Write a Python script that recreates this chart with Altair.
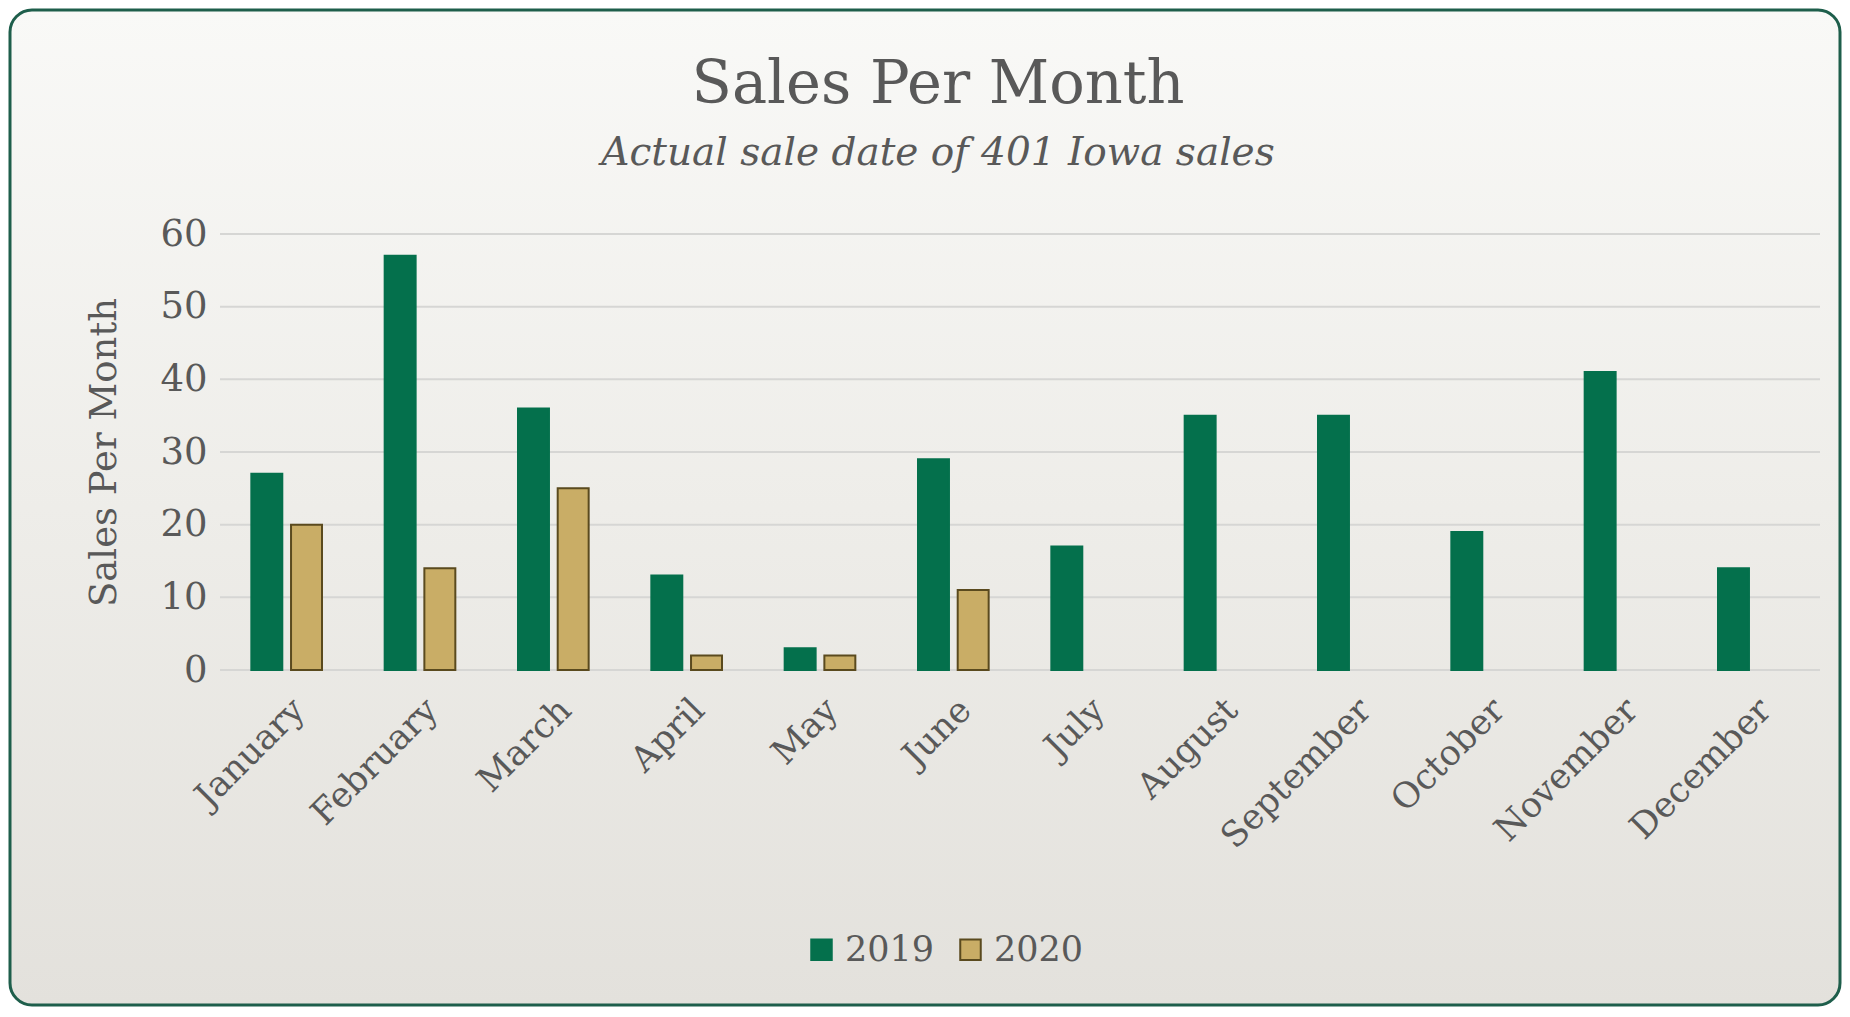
import altair as alt
import pandas as pd

months = ["January", "February", "March", "April", "May", "June", "July",
          "August", "September", "October", "November", "December"]
sales_2019 = [27, 57, 36, 13, 3, 29, 17, 35, 35, 19, 41, 14]
months_2020 = ["January", "February", "March", "April", "May", "June"]
sales_2020 = [20, 14, 25, 2, 2, 11]
grid_values = [0, 10, 20, 30, 40, 50, 60]
years = ["2019", "2020"]

rows = [{"Month": m, "Year": "2019", "Sales": v} for m, v in zip(months, sales_2019)]
rows += [{"Month": m, "Year": "2020", "Sales": v} for m, v in zip(months_2020, sales_2020)]
df = pd.DataFrame(rows)
grid_df = pd.DataFrame({"Sales": grid_values})

FONT = "DejaVu Serif"
TXT = "#595959"
W, H = 1600, 436
PL, PT, PR, PB = 212, 226, 22, 339

yscale = alt.Scale(domain=[0, 60], nice=False)
yaxis = alt.Axis(title="Sales Per Month", values=grid_values, grid=False,
                 ticks=False, domain=False, labelFont=FONT, labelFontSize=37,
                 labelColor=TXT, labelPadding=13, titleFont=FONT,
                 titleFontSize=37, titleFontWeight="normal", titleColor=TXT,
                 titlePadding=36, zindex=2)

background = alt.Chart(pd.DataFrame({"bg": [0]})).mark_rect(
    cornerRadius=22,
    stroke="#1e5e4b",
    strokeWidth=3,
    fill=alt.Gradient(
        gradient="linear",
        stops=[alt.GradientStop(color="#f9f9f7", offset=0),
               alt.GradientStop(color="#eeede9", offset=0.5),
               alt.GradientStop(color="#e3e1dc", offset=1)],
        x1=0, x2=0, y1=0, y2=1),
).encode(
    x=alt.value(-PL + 2), x2=alt.value(W + PR - 2),
    y=alt.value(-PT + 2), y2=alt.value(H + PB - 4),
)

grid = alt.Chart(grid_df).mark_rule(color="#d6d6d4", strokeWidth=2).encode(
    y=alt.Y("Sales:Q", scale=yscale, axis=yaxis)
)

legend = alt.Legend(title=None, orient="none", direction="horizontal",
                    legendX=584, legendY=698, symbolType="square",
                    symbolSize=420, symbolStrokeWidth=2,
                    labelFont=FONT, labelFontSize=35, labelColor=TXT,
                    columnPadding=18, labelOffset=6, zindex=2)

bars = alt.Chart(df).mark_bar(strokeWidth=2).encode(
    x=alt.X("Month:N", sort=months, scale=alt.Scale(paddingInner=0.47, paddingOuter=0.235),
            axis=alt.Axis(title=None, labelAngle=-45, labelFont=FONT, labelFontSize=35,
                          labelColor=TXT, labelPadding=22, labelLimit=0, ticks=False,
                          domain=False, zindex=2)),
    xOffset=alt.XOffset("Year:N", sort=years,
                        scale=alt.Scale(paddingInner=0.22, paddingOuter=0.0)),
    y=alt.Y("Sales:Q", scale=yscale, axis=yaxis),
    color=alt.Color("Year:N", sort=years,
                    scale=alt.Scale(domain=years, range=["#04704c", "#c9ad66"]),
                    legend=legend),
    stroke=alt.Stroke("Year:N", sort=years,
                      scale=alt.Scale(domain=years, range=["#04704c", "#5a4a1e"]),
                      legend=legend),
)

chart = alt.layer(background, grid, bars).properties(
    width=W,
    height=H,
    autosize=alt.AutoSizeParams(type="none"),
    padding={"left": PL, "top": PT, "right": PR, "bottom": PB},
    background="#ffffff",
    title=alt.TitleParams(
        text="Sales Per Month",
        subtitle="Actual sale date of 401 Iowa sales",
        font=FONT, fontSize=59, fontWeight="normal", color=TXT,
        subtitleFont=FONT, subtitleFontSize=39, subtitleFontStyle="italic",
        subtitleColor=TXT, subtitlePadding=19,
        anchor="middle", frame="group", dx=-82, offset=-164, zindex=2,
    ),
).configure_view(stroke=None)

chart.save("out.html", embed_options={"renderer": "svg", "actions": False})
